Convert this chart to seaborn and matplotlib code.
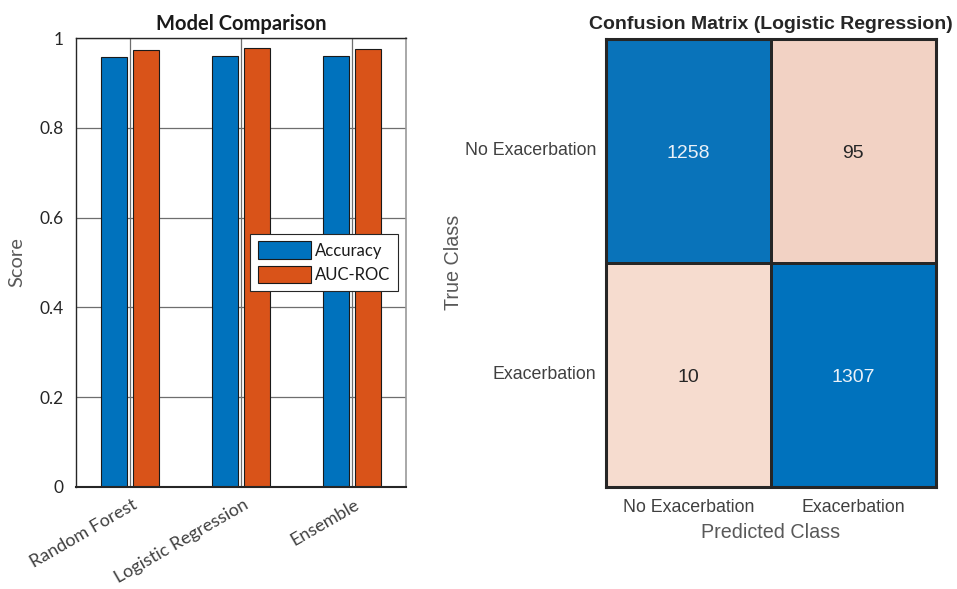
import matplotlib.pyplot as plt
import matplotlib.transforms as mtransforms
import pandas as pd
import seaborn as sns
from matplotlib.colors import LinearSegmentedColormap

models = ['Random Forest', 'Logistic Regression', 'Ensemble']
accuracy = [0.958, 0.960, 0.960]
auc_roc = [0.974, 0.978, 0.977]
metric_names = ['Accuracy', 'AUC-ROC']
y_ticks = [0, 0.2, 0.4, 0.6, 0.8, 1]
y_tick_labels = ['0', '0.2', '0.4', '0.6', '0.8', '1']

classes = ['No Exacerbation', 'Exacerbation']
confusion = [[1258, 95],
             [10, 1307]]

scores = pd.DataFrame({
    'Model': models * 2,
    'Metric': [metric_names[0]] * 3 + [metric_names[1]] * 3,
    'Score': accuracy + auc_roc,
})

sns.set_style('white')
plt.rcParams['font.family'] = ['Lato', 'DejaVu Sans']
arial = ['Liberation Sans', 'DejaVu Sans']

fig = plt.figure(figsize=(9.57, 5.89), dpi=100)

# --- bar chart ---
ax1 = fig.add_axes([0.0797, 0.1737, 0.3445, 0.7613])
sns.barplot(data=scores, x='Model', y='Score', hue='Metric', ax=ax1,
            palette=['#0072BD', '#D95319'], width=0.57, gap=0.19,
            edgecolor='#1a1a1a', linewidth=0.8, saturation=1)
ax1.set_axisbelow(True)
ax1.grid(True, axis='both', color='#6e6e6e', linewidth=0.9)
ax1.set_xlim(-0.485, 2.485)
ax1.set_ylim(0, 1)
ax1.set_yticks(y_ticks)
ax1.set_yticklabels(y_tick_labels)
ax1.tick_params(axis='y', labelsize=12.5, colors='#262626', length=0, pad=9)
ax1.tick_params(axis='x', labelsize=13, colors='#404040', length=0, pad=12)
shift = mtransforms.ScaledTranslation(6 / 100, 0, fig.dpi_scale_trans)
for lab in ax1.get_xticklabels():
    lab.set_rotation(30)
    lab.set_ha('right')
    lab.set_va('center')
    lab.set_rotation_mode('anchor')
    lab.set_transform(lab.get_transform() + shift)
ax1.set_xlabel('')
ax1.set_ylabel('Score', fontsize=14.5, color='#595959', labelpad=10)
ax1.set_title('Model Comparison', fontsize=14.5, fontweight='bold', color='#1a1a1a', pad=6)
for side in ['left', 'top', 'bottom']:
    ax1.spines[side].set_color('#262626')
    ax1.spines[side].set_linewidth(1.0)
ax1.spines['bottom'].set_linewidth(1.5)
ax1.spines['right'].set_color('#9a9a9a')
ax1.spines['right'].set_linewidth(1.2)
leg = ax1.legend(loc='upper left', bbox_to_anchor=(0.527, 0.5636), fontsize=12,
                 handlelength=3.2, handleheight=1.2, handletextpad=0.25,
                 borderpad=0.45, labelspacing=0.45, borderaxespad=0,
                 frameon=True, fancybox=False, framealpha=1)
leg.get_frame().set_edgecolor('#262626')
leg.get_frame().set_linewidth(0.8)
for t in leg.get_texts():
    t.set_color('#1a1a1a')

# --- confusion matrix ---
cm_df = pd.DataFrame(confusion, index=classes, columns=classes)
cmap = LinearSegmentedColormap.from_list(
    'cm', [(0.0, '#F6DCCF'), (0.066, '#F2D2C3'), (0.962, '#0A73BA'), (1.0, '#0072BD')])
ax2 = fig.add_axes([0.6329, 0.1737, 0.3451, 0.760])
sns.heatmap(cm_df, annot=True, fmt='d', cmap=cmap, vmin=10, vmax=1307, cbar=False,
            linewidths=2, linecolor='#262626', ax=ax2,
            annot_kws={'fontsize': 14, 'family': arial})
for t in ax2.texts:
    if t.get_text() in ('1258', '1307'):
        t.set_color('#EAF1F8')
    else:
        t.set_color('#262626')
    x, y = t.get_position()
    t.set_position((x, y + 0.01))
for side in ax2.spines.values():
    side.set_visible(True)
    side.set_color('#262626')
    side.set_linewidth(2.2)
ax2.tick_params(axis='both', length=0, labelsize=12.8, colors='#404040')
ax2.tick_params(axis='x', pad=9)
ax2.tick_params(axis='y', pad=7)
for lab in ax2.get_xticklabels() + ax2.get_yticklabels():
    lab.set_family(arial)
for lab in ax2.get_yticklabels():
    lab.set_rotation(0)
ax2.set_xlabel('Predicted Class', fontsize=14.2, color='#595959', family=arial, labelpad=5)
ax2.set_ylabel('True Class', fontsize=14.2, color='#595959', family=arial, labelpad=1)
ax2.set_title('Confusion Matrix (Logistic Regression)', fontsize=14, fontweight='bold',
              color='#262626', family=arial, pad=7)

fig.savefig('out.png', dpi=100)
